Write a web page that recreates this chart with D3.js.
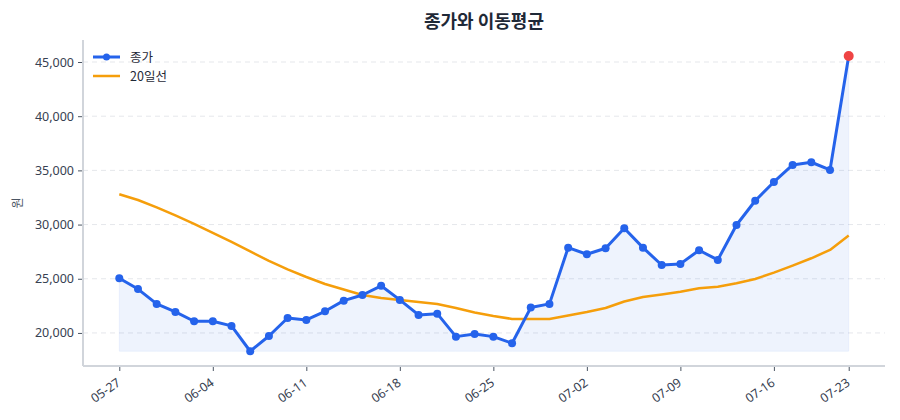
<!DOCTYPE html>
<html>
<head>
<meta charset="utf-8">
<script src="https://cdn.jsdelivr.net/npm/d3@7"></script>
<style>
  body { margin: 0; background: #ffffff; }
  svg { display: block; font-family: "Noto Sans CJK KR", "Noto Sans", sans-serif; }
</style>
</head>
<body>
<svg id="chart"></svg>
<script>
const width = 900;
const height = 420;
const margin = { top: 40, right: 15, bottom: 54, left: 83 };
const innerWidth = width - margin.left - margin.right;
const innerHeight = height - margin.top - margin.bottom;

const closeColor = "#2563eb";
const maColor = "#f59e0b";
const lastColor = "#ef4444";

// trading days (x axis is by index, not calendar time)
const dates = [
  "05-27", "05-28", "05-29", "05-30", "06-02", "06-04", "06-05", "06-06", "06-09", "06-10",
  "06-11", "06-12", "06-13", "06-16", "06-17", "06-18", "06-19", "06-20", "06-23", "06-24",
  "06-25", "06-26", "06-27", "06-30", "07-01", "07-02", "07-03", "07-04", "07-07", "07-08",
  "07-09", "07-10", "07-11", "07-14", "07-15", "07-16", "07-18", "07-21", "07-22", "07-23"
];

const closePrices = [
  25050, 24050, 22680, 21940, 21080, 21080, 20650, 18310, 19720, 21380,
  21200, 22000, 22980, 23500, 24350, 23050, 21660, 21780, 19660, 19910,
  19660, 19050, 22340, 22680, 27870, 27260, 27810, 29660, 27870, 26270,
  26370, 27630, 26740, 29960, 32200, 33930, 35500, 35750, 35040, 45550
];

const ma20 = [
  32800, 32270, 31580, 30840, 30055, 29225, 28395, 27520, 26640, 25860,
  25165, 24520, 24010, 23505, 23230, 23045, 22860, 22675, 22305, 21890,
  21570, 21290, 21290, 21290, 21615, 21940, 22305, 22905, 23320, 23550,
  23810, 24125, 24270, 24585, 24980, 25565, 26210, 26890, 27660, 29000
];

const yTicks = [20000, 25000, 30000, 35000, 40000, 45000];
const xTickIdx = [0, 5, 10, 15, 20, 25, 30, 35, 39];

const svg = d3.select("#chart").attr("width", width).attr("height", height);

svg.append("text")
  .attr("x", margin.left + innerWidth / 2)
  .attr("y", 28)
  .attr("text-anchor", "middle")
  .attr("font-size", 18)
  .attr("font-weight", 700)
  .attr("fill", "#1f2937")
  .text("종가와 이동평균");

const g = svg.append("g").attr("transform", `translate(${margin.left},${margin.top})`);

const xScale = d3.scalePoint()
  .domain(d3.range(dates.length))
  .range([0, innerWidth])
  .padding(1.94);

const yScale = d3.scaleLinear()
  .domain([16950, 47030])
  .range([innerHeight, 0]);

// grid
g.append("g")
  .selectAll("line")
  .data(yTicks)
  .join("line")
  .attr("x1", 0)
  .attr("x2", innerWidth)
  .attr("y1", d => yScale(d))
  .attr("y2", d => yScale(d))
  .attr("stroke", "#e5e7eb")
  .attr("stroke-width", 1)
  .attr("stroke-dasharray", "5,4");

// area under close
const base = yScale(d3.min(closePrices));
const area = d3.area()
  .x((d, i) => xScale(i))
  .y0(base)
  .y1(d => yScale(d));

g.append("path")
  .datum(closePrices)
  .attr("d", area)
  .attr("fill", closeColor)
  .attr("fill-opacity", 0.08)
  .attr("stroke", closeColor)
  .attr("stroke-opacity", 0.06)
  .attr("stroke-width", 1);

// axes
const yAxis = d3.axisLeft(yScale)
  .tickValues(yTicks)
  .tickSize(5)
  .tickPadding(4)
  .tickFormat(d3.format(","));

const yG = g.append("g").call(yAxis);
yG.select(".domain").remove();
yG.selectAll(".tick line").attr("stroke", "#4b5563");
yG.selectAll(".tick text")
  .attr("fill", "#374151")
  .attr("font-size", 12.5)
  .attr("font-family", "\"Noto Sans\", sans-serif");

const xAxis = d3.axisBottom(xScale)
  .tickValues(xTickIdx)
  .tickSize(5)
  .tickFormat(i => dates[i]);

const xG = g.append("g").attr("transform", `translate(0,${innerHeight})`).call(xAxis);
xG.select(".domain").remove();
xG.selectAll(".tick line").attr("stroke", "#4b5563");
xG.selectAll(".tick text")
  .attr("fill", "#374151")
  .attr("font-size", 12.5)
  .attr("font-family", "\"Noto Sans\", sans-serif")
  .attr("text-anchor", "end")
  .attr("dy", "0")
  .attr("transform", "translate(-3,12) rotate(-35)");

// spines
g.append("line")
  .attr("x1", 0).attr("x2", 0)
  .attr("y1", 0).attr("y2", innerHeight)
  .attr("stroke", "#d1d5db").attr("stroke-width", 2);
g.append("line")
  .attr("x1", 0).attr("x2", innerWidth)
  .attr("y1", innerHeight).attr("y2", innerHeight)
  .attr("stroke", "#d1d5db").attr("stroke-width", 2);

// y label
svg.append("text")
  .attr("transform", `translate(22,${margin.top + innerHeight / 2}) rotate(-90)`)
  .attr("text-anchor", "middle")
  .attr("font-size", 12)
  .attr("fill", "#4b5563")
  .text("원");

// moving average
const line = d3.line()
  .x((d, i) => xScale(i))
  .y(d => yScale(d));

g.append("path")
  .datum(ma20)
  .attr("d", line)
  .attr("fill", "none")
  .attr("stroke", maColor)
  .attr("stroke-width", 2.5)
  .attr("stroke-linejoin", "round");

// close
g.append("path")
  .datum(closePrices)
  .attr("d", line)
  .attr("fill", "none")
  .attr("stroke", closeColor)
  .attr("stroke-width", 3)
  .attr("stroke-linejoin", "round");

g.append("g")
  .selectAll("circle")
  .data(closePrices.slice(0, -1))
  .join("circle")
  .attr("cx", (d, i) => xScale(i))
  .attr("cy", d => yScale(d))
  .attr("r", 4)
  .attr("fill", closeColor);

g.append("circle")
  .attr("cx", xScale(closePrices.length - 1))
  .attr("cy", yScale(closePrices[closePrices.length - 1]))
  .attr("r", 5)
  .attr("fill", lastColor);

// legend
const legend = g.append("g").attr("transform", "translate(10,17)");
const legendItems = [
  { label: "종가", color: closeColor, marker: true, w: 3 },
  { label: "20일선", color: maColor, marker: false, w: 2.5 }
];
legendItems.forEach((item, i) => {
  const row = legend.append("g").attr("transform", `translate(0,${i * 19})`);
  row.append("line")
    .attr("x1", 0).attr("x2", 27)
    .attr("stroke", item.color)
    .attr("stroke-width", item.w);
  if (item.marker) {
    row.append("circle").attr("cx", 13.5).attr("r", 3.5).attr("fill", item.color);
  }
  row.append("text")
    .attr("x", 37)
    .attr("y", 4.5)
    .attr("font-size", 12.5)
    .attr("fill", "#1f2937")
    .text(item.label);
});
</script>
</body>
</html>
